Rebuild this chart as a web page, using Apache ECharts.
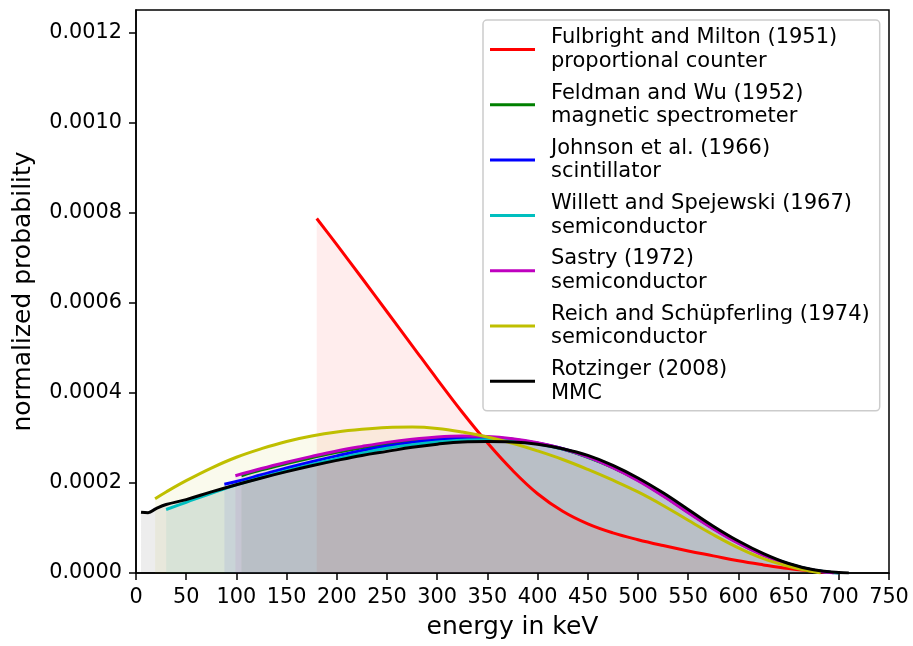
<!DOCTYPE html>
<html>
<head>
<meta charset="utf-8">
<script src="https://cdn.jsdelivr.net/npm/echarts@6/dist/echarts.min.js"></script>
<style>
html,body{margin:0;padding:0;background:#fff;}
#chart{width:913px;height:646px;}
</style>
</head>
<body>
<div id="chart"></div>
<script>
// ---- data (energy in keV, normalized probability) ----
const seriesNames = [
  'Fulbright and Milton (1951)\nproportional counter',
  'Feldman and Wu (1952)\nmagnetic spectrometer',
  'Johnson et al. (1966)\nscintillator',
  'Willett and Spejewski (1967)\nsemiconductor',
  'Sastry (1972)\nsemiconductor',
  'Reich and Schüpferling (1974)\nsemiconductor',
  'Rotzinger (2008)\nMMC'
];
const seriesColors = ['#ff0000', '#008000', '#0000ff', '#00bfbf', '#bf00bf', '#bfbf00', '#000000'];

const fulbrightE = [180, 200, 225, 250, 275, 300, 325, 350, 375, 400, 425, 450, 475, 500, 525, 550, 575, 600, 625, 650, 675, 688];
const fulbrightP = [0.000787, 0.000729, 0.000655, 0.000580, 0.000505, 0.000430, 0.000357, 0.000289, 0.000228, 0.000176, 0.000137, 0.000109, 0.000089, 0.000074, 0.000061, 0.000049, 0.000038, 0.000027, 0.000018, 0.000010, 0.000004, 0.000001];

const feldmanE = [105, 125, 150, 175, 200, 225, 250, 275, 300, 325, 350, 375, 400, 425, 450, 475, 500, 525, 550, 575, 600, 625, 650, 675, 700];
const feldmanP = [0.000216, 0.000229, 0.000243, 0.000256, 0.000268, 0.000278, 0.000287, 0.000294, 0.000299, 0.000301, 0.000301, 0.000297, 0.000288, 0.000275, 0.000257, 0.000234, 0.000206, 0.000172, 0.000135, 0.000099, 0.000067, 0.000040, 0.000019, 0.000006, 0.0];

const johnsonE = [88, 100, 125, 150, 175, 200, 225, 250, 275, 300, 325, 350, 375, 400, 425, 450, 475, 500, 525, 550, 575, 600, 625, 650, 675, 700];
const johnsonP = [0.000197, 0.000203, 0.000218, 0.000233, 0.000247, 0.000260, 0.000272, 0.000282, 0.000290, 0.000296, 0.000299, 0.000299, 0.000296, 0.000288, 0.000276, 0.000258, 0.000235, 0.000207, 0.000173, 0.000136, 0.000100, 0.000068, 0.000041, 0.000020, 0.000006, 0.0];

const willettE = [30, 50, 75, 100, 125, 150, 175, 200, 225, 250, 275, 300, 325, 350, 375, 400, 425, 450, 475, 500, 525, 550, 575, 600, 625, 650, 675, 700];
const willettP = [0.000141, 0.000157, 0.000177, 0.000196, 0.000212, 0.000227, 0.000241, 0.000254, 0.000266, 0.000277, 0.000285, 0.000291, 0.000295, 0.000296, 0.000294, 0.000287, 0.000275, 0.000258, 0.000235, 0.000207, 0.000174, 0.000137, 0.000101, 0.000068, 0.000041, 0.000020, 0.000006, 0.0];

const sastryE = [99, 125, 150, 175, 200, 225, 250, 275, 300, 325, 350, 375, 400, 425, 450, 475, 500, 525, 550, 575, 600, 625, 650, 675, 695];
const sastryP = [0.000216, 0.000232, 0.000246, 0.000259, 0.000271, 0.000281, 0.000290, 0.000297, 0.000302, 0.000304, 0.000303, 0.000298, 0.000289, 0.000276, 0.000258, 0.000234, 0.000205, 0.000171, 0.000134, 0.000098, 0.000066, 0.000039, 0.000019, 0.000006, 0.0];

const reichE = [19, 30, 50, 75, 100, 125, 150, 175, 200, 225, 250, 275, 300, 325, 350, 375, 400, 425, 450, 475, 500, 525, 550, 575, 600, 625, 650, 670, 682];
const reichP = [0.000165, 0.000180, 0.000205, 0.000233, 0.000257, 0.000276, 0.000292, 0.000304, 0.000313, 0.000319, 0.000323, 0.000324, 0.000321, 0.000313, 0.000302, 0.000288, 0.000271, 0.000252, 0.000230, 0.000206, 0.000180, 0.000150, 0.000117, 0.000085, 0.000056, 0.000032, 0.000015, 0.000005, 0.0];

const rotzingerE = [5, 12, 20, 30, 50, 75, 100, 125, 150, 175, 200, 225, 250, 275, 300, 325, 350, 375, 400, 425, 450, 475, 500, 525, 550, 575, 600, 625, 650, 675, 700, 710];
const rotzingerP = [0.000135, 0.000134, 0.000143, 0.000152, 0.000163, 0.000180, 0.000196, 0.000211, 0.000225, 0.000238, 0.000250, 0.000261, 0.000270, 0.000279, 0.000286, 0.000291, 0.000292, 0.000291, 0.000286, 0.000276, 0.000261, 0.000239, 0.000211, 0.000178, 0.000141, 0.000104, 0.000071, 0.000043, 0.000021, 0.000007, 0.000001, 0.0];

const xTicks = [0, 50, 100, 150, 200, 250, 300, 350, 400, 450, 500, 550, 600, 650, 700, 750];
const yTicks = [0, 0.0002, 0.0004, 0.0006, 0.0008, 0.0010, 0.0012];

const energies = [fulbrightE, feldmanE, johnsonE, willettE, sastryE, reichE, rotzingerE];
const probs = [fulbrightP, feldmanP, johnsonP, willettP, sastryP, reichP, rotzingerP];

// ---- build chart ----
const FONT = 'DejaVu Sans';
const chart = echarts.init(document.getElementById('chart'), null, {renderer: 'canvas'});

function pairs(xs, ys) { return xs.map((x, i) => [x, ys[i]]); }
function hexToRgba(hex, a) {
  const r = parseInt(hex.slice(1, 3), 16), g = parseInt(hex.slice(3, 5), 16), b = parseInt(hex.slice(5, 7), 16);
  return 'rgba(' + r + ',' + g + ',' + b + ',' + a + ')';
}

const SMOOTH = 0.4;
const series = [];
// fills first (below all lines)
seriesNames.forEach((n, i) => {
  series.push({
    type: 'line', name: '__fill' + i, data: pairs(energies[i], probs[i]),
    smooth: SMOOTH, showSymbol: false, symbol: 'none', z: 1,
    lineStyle: {width: 0, opacity: 0},
    areaStyle: {color: hexToRgba(seriesColors[i], 0.1), origin: 'start'},
    silent: true, animation: false
  });
});
// lines
seriesNames.forEach((n, i) => {
  series.push({
    type: 'line', name: n, data: pairs(energies[i], probs[i]),
    smooth: SMOOTH, showSymbol: false, symbol: 'none', z: 3,
    color: seriesColors[i],
    itemStyle: {color: seriesColors[i]},
    lineStyle: {width: 3, color: seriesColors[i]},
    animation: false
  });
});

const option = {
  animation: false,
  backgroundColor: '#ffffff',
  grid: {left: 136, right: 24, top: 10, bottom: 73, show: true, borderColor: '#000', borderWidth: 1.5, backgroundColor: 'transparent'},
  xAxis: {
    type: 'value', min: 0, max: 750, interval: 50,
    name: 'energy in keV', nameLocation: 'middle', nameGap: 42,
    nameTextStyle: {fontFamily: FONT, fontSize: 25, color: '#000'},
    axisLine: {show: true, onZero: false, lineStyle: {color: '#000', width: 1.5}},
    axisTick: {show: true, length: 7, lineStyle: {color: '#000', width: 1.5}, customValues: xTicks},
    axisLabel: {fontFamily: FONT, fontSize: 20.8, color: '#000', margin: 14, customValues: xTicks},
    splitLine: {show: false}
  },
  yAxis: {
    type: 'value', min: 0, max: 0.00125,
    name: 'normalized probability', nameLocation: 'middle', nameGap: 100,
    nameTextStyle: {fontFamily: FONT, fontSize: 25, color: '#000'},
    axisLine: {show: true, onZero: false, lineStyle: {color: '#000', width: 1.5}},
    axisTick: {show: true, length: 7, lineStyle: {color: '#000', width: 1.5}, customValues: yTicks},
    axisLabel: {fontFamily: FONT, fontSize: 20.8, color: '#000', margin: 14, customValues: yTicks,
      formatter: v => v.toFixed(4)},
    splitLine: {show: false}
  },
  legend: {
    data: seriesNames,
    orient: 'vertical', left: 483, top: 20,
    padding: [6, 10, 6, 7],
    itemGap: 8.3, itemWidth: 45, itemHeight: 3, icon: 'rect',
    selectedMode: false,
    backgroundColor: 'rgba(255,255,255,0.8)',
    borderColor: '#cccccc', borderWidth: 1.5, borderRadius: 4,
    textStyle: {fontFamily: FONT, fontSize: 21, lineHeight: 23.5, color: '#000', padding: [0, 0, 0, 11]}
  },
  series: series
};
chart.setOption(option);
</script>
</body>
</html>
